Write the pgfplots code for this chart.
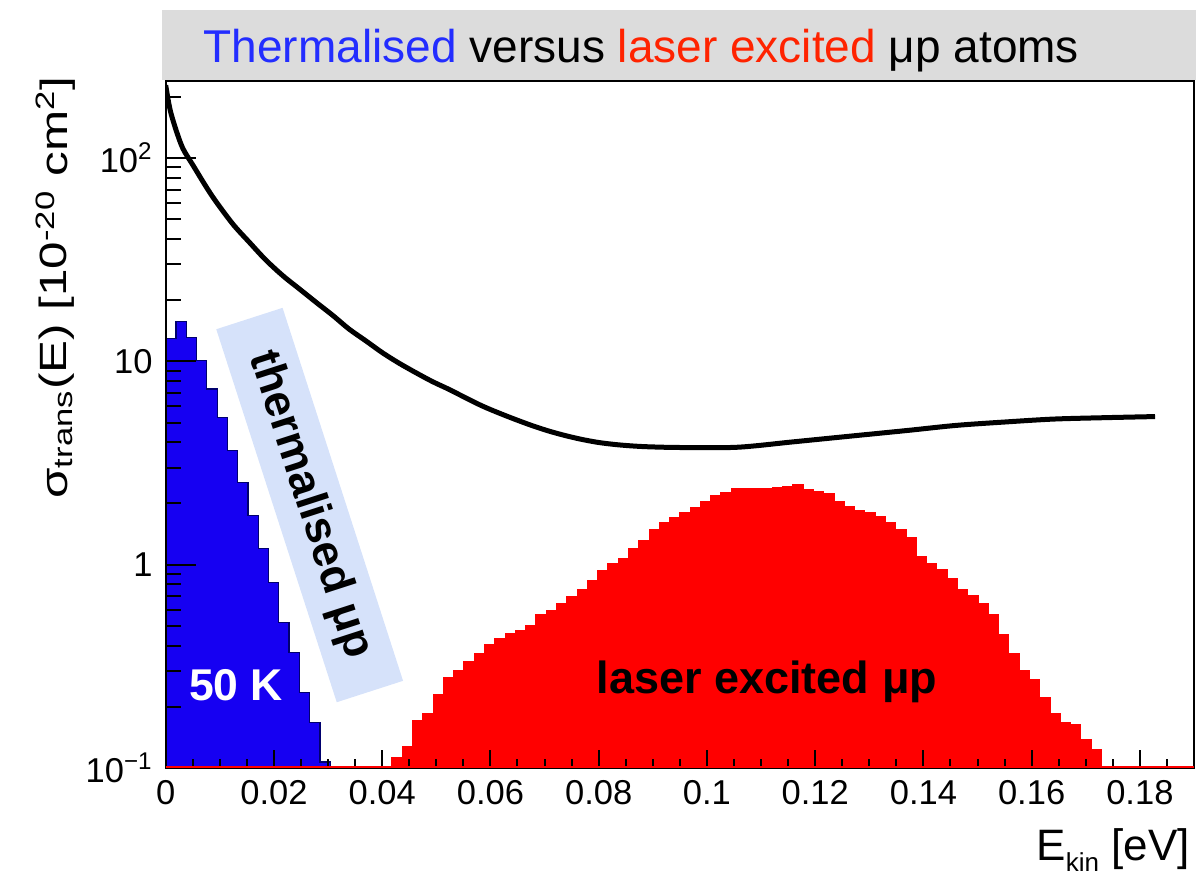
\documentclass[border=0pt]{standalone}
\usepackage{fontspec}
\setmainfont{Liberation Sans}
\usepackage{pgfplots}
\usepackage{pgfplotstable}
\pgfplotsset{compat=1.18}

\definecolor{histblue}{RGB}{22,0,242}
\definecolor{histedge}{RGB}{0,0,110}
\definecolor{histred}{RGB}{255,0,0}
\definecolor{titlegray}{RGB}{220,220,220}
\definecolor{titleblue}{RGB}{35,45,255}
\definecolor{titlered}{RGB}{255,35,0}
\definecolor{tagblue}{RGB}{214,226,250}

% thermalised muonic hydrogen, 50 K (bin left edge, content); bin width 0.0019 eV
\pgfplotstableread{
x       y
0       0.1
0       12.99
0.0019  15.68
0.0038  13.14
0.0057  10.08
0.0076  7.31
0.0095  5.31
0.0114  3.64
0.0133  2.54
0.0152  1.74
0.0171  1.20
0.0190  0.819
0.0209  0.521
0.0228  0.371
0.0247  0.236
0.0266  0.168
0.0285  0.107
0.0304  0.107
0.0304  0.1
}\thermaltable

% laser excited muonic hydrogen (bin left edge, content)
\pgfplotstableread{
x       y
0.0418  0.1
0.0418  0.113
0.0437  0.128
0.0456  0.171
0.0475  0.185
0.0494  0.231
0.0513  0.279
0.0532  0.301
0.0551  0.333
0.0570  0.367
0.0589  0.404
0.0608  0.431
0.0627  0.461
0.0646  0.477
0.0665  0.505
0.0684  0.566
0.0703  0.594
0.0722  0.641
0.0741  0.699
0.0760  0.759
0.0779  0.834
0.0798  0.934
0.0817  1.008
0.0836  1.075
0.0855  1.204
0.0874  1.312
0.0893  1.481
0.0912  1.617
0.0931  1.711
0.0950  1.810
0.0969  1.916
0.0988  2.050
0.1007  2.185
0.1026  2.253
0.1045  2.376
0.1064  2.376
0.1083  2.376
0.1102  2.357
0.1121  2.403
0.1140  2.425
0.1159  2.466
0.1178  2.338
0.1197  2.286
0.1216  2.227
0.1235  2.050
0.1254  1.938
0.1273  1.843
0.1292  1.796
0.1311  1.722
0.1330  1.617
0.1349  1.481
0.1368  1.353
0.1387  1.100
0.1406  1.019
0.1425  0.952
0.1444  0.851
0.1463  0.753
0.1482  0.704
0.1501  0.641
0.1520  0.566
0.1539  0.451
0.1558  0.364
0.1577  0.301
0.1596  0.272
0.1615  0.223
0.1634  0.186
0.1653  0.168
0.1672  0.163
0.1691  0.138
0.1710  0.124
0.1729  0.124
0.1729  0.1
}\lasertable

% transfer cross section sigma_trans(E) in 10^-20 cm^2
\pgfplotstableread{
x       y
0.0000  228
0.0005  190
0.0010  165
0.0020  135
0.0032  111
0.0051  91.6
0.0075  72
0.0094  60.5
0.0125  47
0.0155  38.4
0.0185  31.5
0.0217  26.3
0.0248  22.6
0.0278  19.5
0.0309  16.8
0.0339  14.4
0.0370  12.6
0.0401  11.0
0.0431  9.8
0.0462  8.8
0.0493  7.95
0.0524  7.27
0.0555  6.6
0.0585  6.03
0.0615  5.58
0.0646  5.18
0.0677  4.83
0.0708  4.54
0.0739  4.31
0.0769  4.13
0.0800  3.99
0.0830  3.90
0.0860  3.84
0.0892  3.80
0.0950  3.77
0.1056  3.78
0.1160  4.02
0.1270  4.30
0.1370  4.57
0.1460  4.84
0.1550  5.03
0.1640  5.20
0.1730  5.28
0.1828  5.35
}\sigmatable

\begin{document}
\begin{tikzpicture}
\useasboundingbox (0pt,0pt) rectangle (598pt,437.5pt);

% title bar
\fill[titlegray] (81pt,397.5pt) rectangle (598pt,432.5pt);
\node[anchor=base west, inner sep=0pt, font=\fontsize{23}{27}\selectfont]
  at (101.65pt,406.15pt)
  {{\color{titleblue}Thermalised} versus {\color{titlered}laser excited} μp atoms};

% main frame: histograms, cross section, y ticks
\begin{axis}[
  at={(82.85pt,53.5pt)}, anchor=south west,
  scale only axis, width=514.15pt, height=343.65pt,
  xmin=0, xmax=0.19,
  ymode=log, ymin=0.1, ymax=240,
  axis on top,
  axis line style={line width=1.1pt},
  xtick=\empty,
  ytick={0.1,1,10,100},
  yticklabels={10\textsuperscript{−1},1,10,10\textsuperscript{2}},
  minor ytick={0.2,0.3,0.4,0.5,0.6,0.7,0.8,0.9,2,3,4,5,6,7,8,9,20,30,40,50,60,70,80,90,200},
  ytick pos=left,
  major tick length=15pt, minor tick length=7.5pt,
  every tick/.style={black, line width=1pt},
  /pgf/number format/assume math mode=true,
  yticklabel style={font=\fontsize{17.25}{20}\selectfont, inner sep=0pt, xshift=-6.35pt},
]
\addplot[fill=histred, draw=histred, line width=0.5pt, const plot mark left]
  table[x=x, y=y] {\lasertable};
\addplot[fill=histblue, draw=histedge, line width=0.6pt, const plot mark left]
  table[x=x, y=y] {\thermaltable};
\addplot[black, line width=2.5pt, line join=round, smooth, tension=0.5]
  table[x=x, y=y] {\sigmatable};

\node[fill=tagblue, rotate=-72.1, minimum width=196pt, minimum height=34.85pt,
      inner sep=0pt, font=\bfseries\fontsize{22.5}{26}\selectfont]
  at (axis cs:0.0266,1.965) {thermalised μp};
\node[anchor=base, inner sep=0pt, text=white, font=\bfseries\fontsize{22.25}{26}\selectfont]
  at (axis cs:0.0130,0.2143) {50 K};
\node[anchor=base, inner sep=0pt, font=\bfseries\fontsize{22.5}{26}\selectfont]
  at (axis cs:0.1111,0.2312) {laser excited μp};
\end{axis}

% energy axis with its own tick lengths; empty bins drawn along the floor
\begin{axis}[
  at={(82.85pt,53.5pt)}, anchor=south west,
  scale only axis, width=514.15pt, height=343.65pt,
  xmin=0, xmax=0.19,
  ymode=log, ymin=0.1, ymax=240,
  axis line style={line width=1.1pt},
  ytick=\empty,
  xtick={0,0.02,0.04,0.06,0.08,0.1,0.12,0.14,0.16,0.18},
  xticklabels={0,0.02,0.04,0.06,0.08,0.1,0.12,0.14,0.16,0.18},
  minor xtick={0.005,0.01,0.015,0.025,0.03,0.035,0.045,0.05,0.055,0.065,0.07,0.075,
               0.085,0.09,0.095,0.105,0.11,0.115,0.125,0.13,0.135,0.145,0.15,0.155,
               0.165,0.17,0.175,0.185},
  scaled x ticks=false,
  xtick pos=bottom,
  major tick length=9pt, minor tick length=4.5pt,
  every tick/.style={black, line width=1pt},
  /pgf/number format/assume math mode=true,
  xticklabel style={font=\fontsize{17.25}{20}\selectfont, inner sep=0pt, yshift=-6pt},
]
\addplot[histred, line width=1.2pt, yshift=0.4pt] coordinates {(0,0.1) (0.19,0.1)};
\end{axis}

% axis titles
\node[rotate=90, anchor=base west, inner sep=0pt, font=\fontsize{19}{22}\selectfont]
  at (33.5pt,188pt)
  {\scalebox{1.3}[1]{σ\textsubscript{trans}(E) [10\textsuperscript{-20} cm\textsuperscript{2}]}};
\node[anchor=base east, inner sep=0pt, font=\fontsize{22}{26}\selectfont]
  at (595pt,7.15pt)
  {E\raisebox{-5.5pt}{\fontsize{13}{13}\selectfont kin} [eV]};
\end{tikzpicture}
\end{document}
